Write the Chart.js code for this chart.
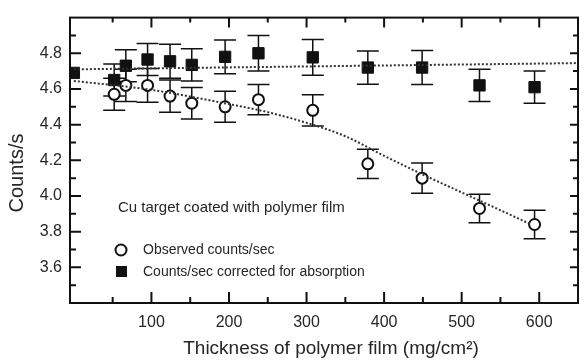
<!DOCTYPE html>
<html>
<head>
<meta charset="utf-8">
<script src="https://cdn.jsdelivr.net/npm/chart.js@4"></script>
<style>
  html, body { margin: 0; padding: 0; background: #fff; }
  #chart { display: block; }
</style>
</head>
<body>
<canvas id="chart" width="587" height="360"></canvas>
<script>
// film thickness (mg/cm2) and count rates
const thickness = [52, 67, 95, 124, 152, 195, 238, 308, 379, 449, 523, 594];
const observed = [4.57, 4.62, 4.62, 4.56, 4.52, 4.50, 4.54, 4.48, 4.18, 4.10, 3.93, 3.84];
const observedErr = [0.09, 0.09, 0.095, 0.09, 0.088, 0.087, 0.085, 0.088, 0.082, 0.085, 0.08, 0.08];

const correctedThickness = [0, 52, 67, 95, 124, 152, 195, 238, 308, 379, 449, 523, 594];
const corrected = [4.69, 4.65, 4.73, 4.765, 4.755, 4.735, 4.78, 4.80, 4.777, 4.72, 4.72, 4.62, 4.61];
const correctedErr = [0, 0.09, 0.09, 0.09, 0.095, 0.09, 0.095, 0.1, 0.1, 0.093, 0.095, 0.09, 0.09];

// dotted trend curves
const observedFitX = [0, 100, 200, 250, 300, 350, 400, 450, 500, 550, 590];
const observedFitY = [4.645, 4.595, 4.515, 4.47, 4.41, 4.335, 4.225, 4.12, 4.02, 3.92, 3.84];
const correctedFitX = [0, 650];
const correctedFitY = [4.71, 4.745];

// axis ticks
const xMajorTicks = [100, 200, 300, 400, 500, 600];
const xMinorTicks = [50, 150, 250, 350, 450, 550];
const yMajorTicks = [3.6, 3.8, 4.0, 4.2, 4.4, 4.6, 4.8];
const yMinorTicks = [3.5, 3.7, 3.9, 4.1, 4.3, 4.5, 4.7, 4.9];

const FONT = "'Liberation Sans', Arial, sans-serif";
const INK = "#111";
const TEXT = "#262626";

const pts = (xs, ys) => xs.map((x, i) => ({ x: x, y: ys[i] }));

// error bars, ticks, frame, titles, caption and key
const decorations = {
  id: "decorations",
  beforeDatasetsDraw(chart) {
    const ctx = chart.ctx;
    const xs = chart.scales.x;
    const ys = chart.scales.y;
    ctx.save();
    ctx.strokeStyle = INK;
    ctx.lineWidth = 1.5;
    const bars = (xv, yv, ev) => {
      xv.forEach((x, i) => {
        if (!ev[i]) return;
        const px = xs.getPixelForValue(x);
        const top = ys.getPixelForValue(yv[i] + ev[i]);
        const bot = ys.getPixelForValue(yv[i] - ev[i]);
        ctx.beginPath();
        ctx.moveTo(px, top); ctx.lineTo(px, bot);
        ctx.moveTo(px - 11, top); ctx.lineTo(px + 11, top);
        ctx.moveTo(px - 11, bot); ctx.lineTo(px + 11, bot);
        ctx.stroke();
      });
    };
    bars(thickness, observed, observedErr);
    bars(correctedThickness, corrected, correctedErr);
    ctx.restore();
  },
  afterDraw(chart) {
    const ctx = chart.ctx;
    const a = chart.chartArea;
    const xs = chart.scales.x;
    const ys = chart.scales.y;
    ctx.save();
    ctx.strokeStyle = INK;
    ctx.lineWidth = 2;
    ctx.strokeRect(a.left, a.top, a.right - a.left, a.bottom - a.top);

    ctx.beginPath();
    const xTick = (v, lenB, lenT) => {
      const px = xs.getPixelForValue(v);
      ctx.moveTo(px, a.bottom); ctx.lineTo(px, a.bottom - lenB);
      ctx.moveTo(px, a.top); ctx.lineTo(px, a.top + lenT);
    };
    const yTick = (v, lenL, lenR) => {
      const py = ys.getPixelForValue(v);
      ctx.moveTo(a.left, py); ctx.lineTo(a.left + lenL, py);
      ctx.moveTo(a.right, py); ctx.lineTo(a.right - lenR, py);
    };
    xMajorTicks.forEach(v => xTick(v, 11, 10));
    xMinorTicks.forEach(v => xTick(v, 6, 5));
    yMajorTicks.forEach(v => yTick(v, 11, 8));
    yMinorTicks.forEach(v => yTick(v, 6, 5));
    ctx.stroke();

    // axis titles
    ctx.fillStyle = TEXT;
    ctx.textAlign = "center";
    ctx.textBaseline = "middle";
    ctx.font = "19px " + FONT;
    ctx.fillText("Thickness of polymer film (mg/cm²)", 331, 349);
    ctx.save();
    ctx.translate(17, 173);
    ctx.rotate(-Math.PI / 2);
    ctx.font = "20px " + FONT;
    ctx.fillText("Counts/s", 0, 0);
    ctx.restore();

    // caption and key
    ctx.textAlign = "left";
    ctx.font = "15px " + FONT;
    ctx.fillText("Cu target coated with polymer film", 118, 208);
    ctx.font = "14px " + FONT;
    ctx.fillText("Observed counts/sec", 143, 250);
    ctx.fillText("Counts/sec corrected for absorption", 143, 272);

    ctx.beginPath();
    ctx.lineWidth = 2;
    ctx.strokeStyle = INK;
    ctx.fillStyle = "#fff";
    ctx.arc(121, 250, 5.5, 0, Math.PI * 2);
    ctx.fill();
    ctx.stroke();
    ctx.fillStyle = INK;
    ctx.fillRect(116, 266, 11, 11);
    ctx.restore();
  }
};

new Chart(document.getElementById("chart"), {
  type: "scatter",
  data: {
    datasets: [
      {
        data: pts(observedFitX, observedFitY),
        showLine: true,
        cubicInterpolationMode: "monotone",
        pointRadius: 0,
        borderColor: "#333",
        borderWidth: 2,
        borderDash: [2, 2]
      },
      {
        data: pts(correctedFitX, correctedFitY),
        showLine: true,
        pointRadius: 0,
        borderColor: "#333",
        borderWidth: 2,
        borderDash: [2, 2]
      },
      {
        label: "Observed counts/sec",
        data: pts(thickness, observed),
        pointStyle: "circle",
        pointRadius: 5.5,
        pointBorderWidth: 2,
        pointBorderColor: INK,
        pointBackgroundColor: "#fff"
      },
      {
        label: "Counts/sec corrected for absorption",
        data: pts(correctedThickness, corrected),
        pointStyle: "rect",
        pointRadius: 8,
        pointBorderWidth: 1,
        pointBorderColor: INK,
        pointBackgroundColor: INK
      }
    ]
  },
  options: {
    responsive: false,
    animation: false,
    events: [],
    layout: { padding: { top: 16, right: 2, left: 0, bottom: 0 } },
    plugins: { legend: { display: false }, tooltip: { enabled: false } },
    scales: {
      x: {
        type: "linear",
        min: -5,
        max: 650,
        afterFit: s => { s.height = 57; },
        afterBuildTicks: s => { s.ticks = xMajorTicks.map(v => ({ value: v })); },
        grid: { display: false, drawTicks: false },
        border: { display: false },
        ticks: { padding: 10, color: TEXT, font: { family: FONT, size: 16 } }
      },
      y: {
        type: "linear",
        min: 3.4,
        max: 5.0,
        afterFit: s => { s.width = 70; },
        afterBuildTicks: s => { s.ticks = yMajorTicks.map(v => ({ value: v })); },
        grid: { display: false, drawTicks: false },
        border: { display: false },
        ticks: {
          padding: 8,
          color: TEXT,
          font: { family: FONT, size: 16 },
          callback: v => v.toFixed(1)
        }
      }
    }
  },
  plugins: [decorations]
});
</script>
</body>
</html>
